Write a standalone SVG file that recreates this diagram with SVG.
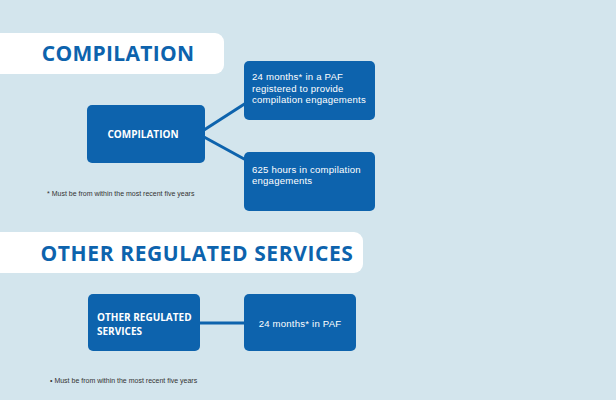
<svg xmlns="http://www.w3.org/2000/svg" width="616" height="400" viewBox="0 0 616 400">
<style>
.box{fill:#0d63ad}
.ban{fill:#ffffff}
.h{font-family:"Open Sans","Liberation Sans",sans-serif;font-weight:bold;fill:#0d63ad;font-size:21px;text-anchor:middle}
.bt{font-family:"Open Sans","Liberation Sans",sans-serif;font-weight:bold;fill:#fff;font-size:10px}
.t{font-family:"Liberation Sans",sans-serif;fill:#fff;font-size:9.6px;letter-spacing:0.2px}
.fn{font-family:"Liberation Sans",sans-serif;fill:#333;font-size:7px}
.c{stroke:#0d63ad;stroke-width:3;fill:none}
</style>
<rect width="616" height="400" fill="#d3e5ed"/>
<g id="banner1"><rect class="ban" x="-12" y="33" width="236" height="41" rx="9"/><text class="h" x="118" y="61" letter-spacing="0.3">COMPILATION</text></g>
<g id="banner2"><rect class="ban" x="-12" y="232" width="375" height="41" rx="9"/><text class="h" x="197" y="261" letter-spacing="0.6">OTHER REGULATED SERVICES</text></g>
<g id="connectors">
<line class="c" x1="204" y1="130" x2="246" y2="103"/>
<line class="c" x1="204" y1="137" x2="246" y2="160"/>
<line class="c" x1="199" y1="323" x2="246" y2="323"/>
</g>
<g id="n-compilation"><rect class="box" x="87" y="105" width="118" height="58" rx="5"/><text class="bt" x="143" y="138" text-anchor="middle">COMPILATION</text></g>
<g id="n-24months"><rect class="box" x="244" y="61" width="131" height="59" rx="5"/><text class="t" x="252" y="80">24 months* in a PAF</text><text class="t" x="252" y="92">registered to provide</text><text class="t" x="252" y="103">compilation engagements</text></g>
<g id="n-625hours"><rect class="box" x="244" y="152" width="131" height="59" rx="5"/><text class="t" x="252" y="173">625 hours in compilation</text><text class="t" x="252" y="184">engagements</text></g>
<text class="fn" x="47" y="196">* Must be from within the most recent five years</text>
<g id="n-other"><rect class="box" x="88" y="294" width="112" height="57" rx="5"/><text class="bt" x="97" y="321">OTHER REGULATED</text><text class="bt" x="97" y="335">SERVICES</text></g>
<g id="n-paf"><rect class="box" x="244" y="294" width="112" height="57" rx="5"/><text class="t" x="300" y="327" text-anchor="middle" font-size="11">24 months* in PAF</text></g>
<text class="fn" x="50" y="383">•  Must be from within the most recent five years</text>
</svg>
